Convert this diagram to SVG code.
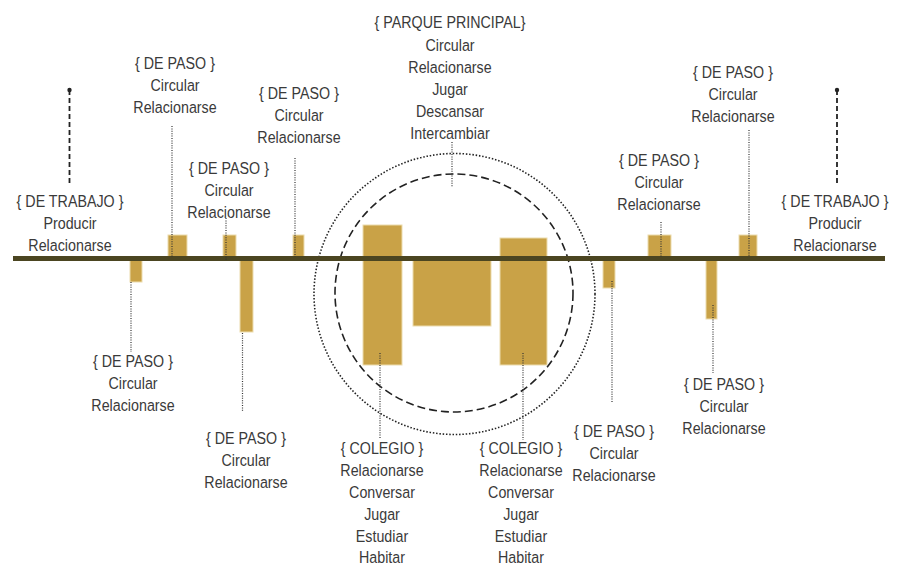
<svg xmlns="http://www.w3.org/2000/svg" width="898" height="567" viewBox="0 0 898 567">
<style>
text{font-family:"Liberation Sans",Arial,sans-serif;font-size:17px;fill:#3a3a3a;text-anchor:middle}
.bar{fill:#c9a247;stroke:#ecdcae;stroke-width:1}
.dot{fill:none;stroke:#333;stroke-width:1.2;stroke-dasharray:1 1.4}
.dash{fill:none;stroke:#222;stroke-width:1.8;stroke-dasharray:5 3}
.cdash{fill:none;stroke:#222;stroke-width:1.6;stroke-dasharray:8 4}
.cdot{fill:none;stroke:#222;stroke-width:1.6;stroke-dasharray:1.5 1.8}
</style>
<rect width="898" height="567" fill="#fff"/>
<g id="bars">
<rect class="bar" x="168" y="235" width="19" height="22"/>
<rect class="bar" x="223" y="235" width="13" height="22"/>
<rect class="bar" x="293" y="235" width="11" height="22"/>
<rect class="bar" x="130" y="260" width="12" height="22"/>
<rect class="bar" x="240" y="260" width="13" height="72"/>
<rect class="bar" x="363" y="225" width="39" height="140"/>
<rect class="bar" x="413" y="260" width="78" height="66"/>
<rect class="bar" x="500" y="238" width="47" height="127"/>
<rect class="bar" x="648" y="235" width="23" height="22"/>
<rect class="bar" x="739" y="235" width="18" height="22"/>
<rect class="bar" x="603" y="260" width="12" height="28"/>
<rect class="bar" x="706" y="260" width="11" height="59"/>
</g>
<g id="parque">
<circle class="cdot" cx="454.5" cy="294" r="140.5"/>
<circle class="cdash" cx="454" cy="293" r="119"/>
</g>
<rect id="axis" x="13" y="256" width="872" height="5" fill="#4b4521"/>
<g id="connectors">
<line class="dash" x1="69.5" y1="90" x2="69.5" y2="183"/>
<circle cx="69.5" cy="90" r="2.2" fill="#222"/>
<line class="dash" x1="837" y1="90" x2="837" y2="183"/>
<circle cx="837" cy="90" r="2.2" fill="#222"/>
<line class="dot" x1="172" y1="126" x2="172" y2="257"/>
<line class="dot" x1="226" y1="218" x2="226" y2="260"/>
<line class="dot" x1="295" y1="158" x2="295" y2="257"/>
<line class="dot" x1="131" y1="282" x2="131" y2="352"/>
<line class="dot" x1="242.5" y1="333" x2="242.5" y2="412"/>
<line class="dot" x1="452" y1="142" x2="452" y2="187"/>
<line class="dot" x1="380" y1="353" x2="380" y2="438"/>
<line class="dot" x1="523" y1="353" x2="523" y2="440"/>
<line class="dot" x1="612" y1="281" x2="612" y2="403"/>
<line class="dot" x1="713" y1="305" x2="713" y2="373"/>
<line class="dot" x1="661" y1="222" x2="661" y2="257"/>
<line class="dot" x1="749" y1="130" x2="749" y2="257"/>
</g>
<g id="n-trabajo-l" transform="translate(70 0) scale(0.84 1)"><text x="0" y="207">{ DE TRABAJO }</text><text x="0" y="229">Producir</text><text x="0" y="251">Relacionarse</text></g>
<g id="n-trabajo-r" transform="translate(835 0) scale(0.84 1)"><text x="0" y="207">{ DE TRABAJO }</text><text x="0" y="229">Producir</text><text x="0" y="251">Relacionarse</text></g>
<g id="n-paso-1" transform="translate(175 0) scale(0.84 1)"><text x="0" y="69">{ DE PASO }</text><text x="0" y="91">Circular</text><text x="0" y="113">Relacionarse</text></g>
<g id="n-paso-2" transform="translate(229 0) scale(0.84 1)"><text x="0" y="174">{ DE PASO }</text><text x="0" y="196">Circular</text><text x="0" y="218">Relacionarse</text></g>
<g id="n-paso-3" transform="translate(299 0) scale(0.84 1)"><text x="0" y="99">{ DE PASO }</text><text x="0" y="121">Circular</text><text x="0" y="143">Relacionarse</text></g>
<g id="n-paso-4" transform="translate(133 0) scale(0.84 1)"><text x="0" y="367">{ DE PASO }</text><text x="0" y="389">Circular</text><text x="0" y="411">Relacionarse</text></g>
<g id="n-paso-5" transform="translate(246 0) scale(0.84 1)"><text x="0" y="444">{ DE PASO }</text><text x="0" y="466">Circular</text><text x="0" y="488">Relacionarse</text></g>
<g id="n-parque" transform="translate(450 0) scale(0.84 1)"><text x="0" y="28">{ PARQUE PRINCIPAL}</text><text x="0" y="51">Circular</text><text x="0" y="73">Relacionarse</text><text x="0" y="95">Jugar</text><text x="0" y="117">Descansar</text><text x="0" y="139">Intercambiar</text></g>
<g id="n-colegio-1" transform="translate(382 0) scale(0.84 1)"><text x="0" y="454">{ COLEGIO }</text><text x="0" y="476">Relacionarse</text><text x="0" y="498">Conversar</text><text x="0" y="520">Jugar</text><text x="0" y="542">Estudiar</text><text x="0" y="563">Habitar</text></g>
<g id="n-colegio-2" transform="translate(521 0) scale(0.84 1)"><text x="0" y="454">{ COLEGIO }</text><text x="0" y="476">Relacionarse</text><text x="0" y="498">Conversar</text><text x="0" y="520">Jugar</text><text x="0" y="542">Estudiar</text><text x="0" y="563">Habitar</text></g>
<g id="n-paso-6" transform="translate(614 0) scale(0.84 1)"><text x="0" y="437">{ DE PASO }</text><text x="0" y="459">Circular</text><text x="0" y="481">Relacionarse</text></g>
<g id="n-paso-7" transform="translate(724 0) scale(0.84 1)"><text x="0" y="390">{ DE PASO }</text><text x="0" y="412">Circular</text><text x="0" y="434">Relacionarse</text></g>
<g id="n-paso-8" transform="translate(659 0) scale(0.84 1)"><text x="0" y="166">{ DE PASO }</text><text x="0" y="188">Circular</text><text x="0" y="210">Relacionarse</text></g>
<g id="n-paso-9" transform="translate(733 0) scale(0.84 1)"><text x="0" y="78">{ DE PASO }</text><text x="0" y="100">Circular</text><text x="0" y="122">Relacionarse</text></g>
</svg>
